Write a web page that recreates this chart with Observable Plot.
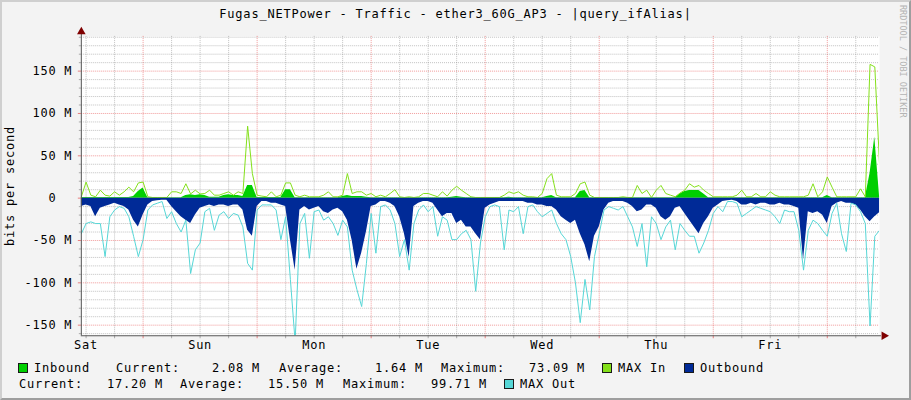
<!DOCTYPE html>
<html><head><meta charset="utf-8">
<script src="https://cdn.jsdelivr.net/npm/d3@7"></script>
<script src="https://cdn.jsdelivr.net/npm/@observablehq/plot@0.6"></script>
<style>
html,body{margin:0;padding:0;background:#f3f3f3;}
#wrap{position:relative;width:911px;height:400px;overflow:hidden;background:#f3f3f3;box-sizing:border-box;
  border-top:2px solid #cfcfcf;border-left:2px solid #cfcfcf;border-right:2px solid #9e9e9e;border-bottom:2px solid #9e9e9e;}
#chart{position:absolute;left:-2px;top:-2px;}
.t{position:absolute;font-family:"DejaVu Sans Mono",monospace;font-size:12px;letter-spacing:0.78px;color:#000;white-space:pre;line-height:12px;height:12px;}
.sq{position:absolute;width:8px;height:8px;border:1px solid #1a1a1a;}
</style></head>
<body><div id="wrap"><div id="chart"></div></div>
<script>
// ---- data (M bits/s), one value per hour, Fri 23:00 -> Fri 23:00 (7 days) ----
const inbound = [
0.8,0.8,0.8,0.8,0.8,0.8,0.8,0.8,0.8,0.8,
0.8,2,8,12,0.5,0.5,0.5,0.5,0.5,0.5,
0.5,0.5,3,4,3,4,3,1,1,1,
3,4,3,3,2,15,15,0.8,0.8,0.8,
0.8,0.8,0.8,10,10,0.5,0.5,0.5,0.5,0.5,
0.5,0.5,0.5,0.5,0.5,2,3,2,2,2,
1,0.5,0.5,0.5,0.5,0.5,0.5,0.5,0.5,0.5,
0.5,0.5,0.5,0.5,0.5,0.5,0.5,0.5,1,2,
1,0.5,0.5,0.5,0.5,0.5,0.5,0.5,0.5,0.5,
1,0.5,0.5,0.5,0.5,0.5,0.5,0.5,2,3,
0.5,0.5,0.5,0.5,0.5,8,9,0.5,0.5,0.5,
0.5,0.5,0.5,0.5,0.5,0.5,0.5,0.5,0.5,0.5,
0.5,0.5,0.5,0.5,0.5,0.5,5,8,9,9,
9,5,0.5,0.5,0.5,0.5,0.5,0.5,0.5,0.5,
0.5,0.5,0.5,0.5,0.5,0.5,0.5,0.5,0.5,0.5,
0.5,0.5,0.5,0.5,0.5,0.5,0.5,3,0.5,0.5,
0.5,0.5,0.5,0.5,0.5,0.5,29,72,2.08];
const maxIn = [
1.6,19,3.5,1.6,9.4,3.5,2.4,7.5,3.5,7.5,
13,7.5,18,19,1.6,0.8,0.8,0.8,0.8,7.5,
7.5,5.5,17,5,9.4,5,5.5,9.4,3.5,3.5,
5.5,7.5,3.5,7.5,5.5,85,29,3.5,2.4,1.6,
7.5,1.6,3.5,18,18,3.5,1.6,3.5,1.6,1.6,
1.6,3.5,7.5,1.6,1.6,3.5,29,5.5,7.5,7.5,
3.5,5.5,1.6,3.5,1.6,5.5,10,1.6,0.8,1.6,
0.8,1.6,5.5,5.5,3.5,1.6,7.5,2.4,9.4,14,
9.4,5.5,1.6,0.8,0.8,0.8,0.8,0.8,0.8,3.5,
7.5,5.5,7.5,3.5,1.6,1.6,0.8,5.5,23,29,
3.5,1.6,1.6,1.6,5.5,17,19,3.5,0.8,0.8,
0.8,0.8,0.8,0.8,1.6,0.8,0.8,15,5.5,9.4,
0.8,9.4,15,5.5,3.5,1.6,6,9.4,17,13,
15,9.4,5.5,1.6,1.6,1.6,1.6,1.6,3.5,9.4,
1.6,1.6,5.5,1.6,1.6,7.5,3.5,1.6,1.6,1.6,
1.6,1.6,1.6,3.5,17,1.6,7.5,25,13,1.6,
1.6,1.6,1.6,1.6,11,1.6,158,155,40];
const outbound = [
10,8,10,22,12,10,8,6,8,10,
14,26,34,20,8,4,3,2.4,2.4,10,
16,22,26,30,20,12,10,8,10,8,
8,10,8,8,14,38,45,10,4,4,
6,6,8,10,49,85,14,10,14,12,
10,16,18,14,12,16,26,50,84,65,
40,10,8,4,4,6,10,22,42,70,
10,6,4,4,6,14,22,18,18,30,
26,34,34,42,49,12,8,6,4,4,
4,4,4,4,6,6,8,8,10,10,
14,22,26,30,26,42,55,75,45,34,
14,6,4,4,4,6,10,16,14,8,
8,12,22,26,22,12,10,18,26,34,
42,30,22,12,8,4,3,2.4,4,8,
8,6,8,6,6,8,8,6,8,8,
10,12,73,16,18,16,20,30,10,6,
4,6,6,8,14,22,28,22,17.2];
const maxOut = [
42,30,28,30,30,69,22,14,10,12,
22,45,69,49,14,8,6,4,24,16,
30,40,26,89,61,53,16,12,38,20,
16,24,18,20,34,77,85,14,8,8,
8,14,49,22,96,170,30,18,71,16,
14,26,22,30,44,26,34,85,108,128,
77,18,65,10,8,14,30,69,49,85,
30,14,8,16,10,45,22,26,49,49,
42,38,49,110,53,22,10,8,10,61,
14,16,10,42,10,8,16,22,18,14,
30,42,49,69,100,147,96,132,69,42,
14,10,12,14,10,22,34,57,30,81,
22,30,49,34,26,61,30,38,45,45,
65,53,38,18,10,16,4,4,6,22,
18,14,10,12,14,16,22,30,14,16,
16,38,85,38,26,30,38,45,18,6,
42,63,6,8,16,30,151,45,38];

const dayNames = ["Sat","Sun","Mon","Tue","Wed","Thu","Fri"];
const dayTicks = [1,25,49,73,97,121,145];        // midnight of each day (hours)
const noonTicks = [13,37,61,85,109,133,157];      // major grid
const sixHourTicks = [1,7,19,25,31,43,49,55,67,73,79,91,97,103,115,121,127,139,145,151,163];
const majorY = [-150,-100,-50,0,50,100,150];
const minorY = [-160,-140,-130,-120,-110,-90,-80,-70,-60,-40,-30,-20,-10,10,20,30,40,60,70,80,90,110,120,130,140,160,170,180,190];
const xDomain = [0,168];
const yDomain = [-162.5,191];

const rows = inbound.map((v,i)=>({h:i, inb:v, maxIn:maxIn[i], out:-outbound[i], maxOut:-maxOut[i]}));
const fmtY = d => d===0 ? "0\u00a0\u00a0" : `${d} M`;

const gridGray = {stroke:"#8f8f8f", strokeOpacity:0.55, strokeDasharray:"1,1"};
const gridRed = {stroke:"#e02020", strokeOpacity:0.45, strokeDasharray:"1,1"};

const chart = Plot.plot({
  width:911, height:400,
  marginLeft:81, marginRight:30, marginTop:36, marginBottom:64,
  x:{domain:xDomain, axis:null},
  y:{domain:yDomain, axis:null},
  style:"background:transparent;font-family:'DejaVu Sans Mono',monospace;font-size:12px;letter-spacing:0.78px;overflow:visible;color:#000;",
  marks:[
    Plot.frame({fill:"#ffffff", stroke:null}),
    Plot.ruleY(minorY, gridGray),
    Plot.ruleX(sixHourTicks, gridGray),
    Plot.ruleY(majorY, gridRed),
    Plot.ruleX(noonTicks, gridRed),
    Plot.areaY(rows, {x:"h", y:"inb", curve:"linear", fill:"#00cf00"}),
    Plot.lineY(rows, {x:"h", y:"maxIn", curve:"linear", stroke:"#84e01a", strokeWidth:1, clip:true}),
    Plot.areaY(rows, {x:"h", y:"out", curve:"linear", fill:"#002a97"}),
    Plot.lineY(rows, {x:"h", y:"maxOut", curve:"linear", stroke:"#55d6d6", strokeWidth:1, clip:true}),
    // tick marks outside the frame
    Plot.axisY(minorY, {anchor:"left", tickSize:2, tickFormat:()=>"", stroke:"#aaaaaa"}),
    Plot.axisY(majorY, {anchor:"left", tickSize:3, tickFormat:()=>"", stroke:"#e88080"}),
    Plot.axisY(majorY, {anchor:"left", tickSize:0, tickPadding:9, tickFormat:fmtY}),
    Plot.axisX(sixHourTicks, {anchor:"bottom", tickSize:3, tickFormat:()=>"", stroke:"#aaaaaa"}),
    Plot.axisX(noonTicks, {anchor:"bottom", tickSize:3, tickFormat:()=>"", stroke:"#e88080"}),
    Plot.axisX(dayTicks, {anchor:"bottom", tickSize:0, tickPadding:5, tickFormat:(d,i)=>dayNames[i]}),
    // axis lines with arrows
    Plot.ruleY([yDomain[0]], {x1:xDomain[0], x2:xDomain[1]+0.4, stroke:"#555555"}),
    Plot.ruleX([xDomain[0]], {y1:yDomain[0], y2:yDomain[1]+3.5, stroke:"#555555"}),
    Plot.dot([{x:xDomain[0], y:yDomain[1]+5.5}], {x:"x", y:"y", symbol:"triangle", r:3.2, fill:"#7f0000", stroke:null}),
    Plot.dot([{x:xDomain[1]+0.95, y:yDomain[0]}], {x:"x", y:"y", symbol:"triangle", r:3.2, rotate:90, fill:"#7f0000", stroke:null})
  ]
});
document.getElementById("chart").appendChild(chart);

// ---- text overlays: title, y label, legend, watermark ----
const wrap = document.getElementById("wrap");
function txt(s, left, top, extra){ const d=document.createElement("div"); d.className="t"; d.textContent=s; d.style.left=(left-2)+"px"; d.style.top=(top-2)+"px"; if(extra) Object.assign(d.style, extra); wrap.appendChild(d); return d; }
function sq(color, left, top){ const d=document.createElement("div"); d.className="sq"; d.style.background=color; d.style.left=(left-2)+"px"; d.style.top=(top-2)+"px"; wrap.appendChild(d); }

const title = "Fugas_NETPower - Traffic - ether3_60G_AP3 - |query_ifAlias|";
txt(title, 0, 8, {width:"911px", textAlign:"center"});
txt("bits per second", -50, 180, {width:"120px", textAlign:"center", transform:"rotate(-90deg)", transformOrigin:"60px 6px"});

const legend1 = [["sq","#00cf00",18],["Inbound",34],["Current:    2.08 M",116],["Average:    1.64 M",279],["Maximum:   73.09 M",441],["sq","#84e01a",602],["MAX In",618],["sq","#002a97",684],["Outbound",700]];
const legend2 = [["Current:   17.20 M",19],["Average:   15.50 M",180],["Maximum:   99.71 M",343],["sq","#55d6d6",504],["MAX Out",520]];
for (const it of legend1) { if (it[0]==="sq") sq(it[1], it[2], 363); else txt(it[0], it[1], 362); }
for (const it of legend2) { if (it[0]==="sq") sq(it[1], it[2], 379); else txt(it[0], it[1], 378); }

txt("RRDTOOL / TOBI OETIKER", 898, 5, {fontSize:"8.5px", letterSpacing:"0px", color:"#b4b4b4", writingMode:"vertical-rl", height:"auto", lineHeight:"9px"});
</script>
</body></html>
